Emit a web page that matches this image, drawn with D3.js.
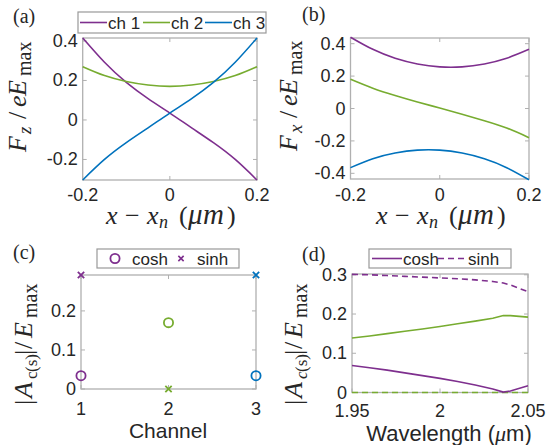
<!DOCTYPE html>
<html><head><meta charset="utf-8">
<script src="https://cdn.jsdelivr.net/npm/d3@7"></script>
<style>
body{margin:0;background:#fff;}
text{font-family:"Liberation Sans",Arial,sans-serif;fill:#262626;}
.serif{font-family:"Liberation Serif","Times New Roman",serif;}
</style></head>
<body><svg id="c" width="553" height="445"></svg>
<script>
// ---------- data ----------
const xOffsets = [-0.2,-0.15,-0.1,-0.05,0,0.05,0.1,0.15,0.2];
const fzCh1 = [0.415,0.292,0.190,0.108,0.035,-0.040,-0.115,-0.200,-0.304];
const fzCh2 = [0.270,0.225,0.195,0.177,0.170,0.177,0.195,0.225,0.270];
const fzCh3 = [-0.304,-0.200,-0.115,-0.040,0.035,0.108,0.190,0.292,0.415];
const fxCh1 = [0.440,0.365,0.310,0.275,0.257,0.257,0.275,0.310,0.365];
const fxCh2 = [0.180,0.125,0.080,0.040,0.003,-0.035,-0.075,-0.120,-0.180];
const fxCh3 = [-0.365,-0.310,-0.275,-0.257,-0.257,-0.275,-0.310,-0.365,-0.440];
const channels = [1,2,3];
const coshAmp = [0.034,0.170,0.034];
const sinhAmp = [0.292,0.000,0.292];
const wavelengths = [1.95,1.96,1.97,1.98,1.99,2.00,2.01,2.02,2.03,2.036,2.04,2.05];
const coshCh1W = [0.069,0.063,0.057,0.050,0.043,0.036,0.028,0.019,0.009,0.001,0.004,0.017];
const sinhCh1W = [0.301,0.300,0.298,0.296,0.294,0.292,0.290,0.287,0.283,0.279,0.274,0.257];
const coshCh2W = [0.139,0.144,0.150,0.156,0.162,0.168,0.175,0.182,0.189,0.196,0.196,0.192];
const sinhCh2W = [0,0,0,0,0,0,0,0,0,0,0,0];
const seriesNames = ["ch 1","ch 2","ch 3"];
const colors = ["#7E2F8E","#77AC30","#0072BD"];
const ticksAB_x = [-0.2,0,0.2];
const ticksA_y = [-0.2,0,0.2,0.4];
const ticksB_y = [-0.4,-0.2,0,0.2,0.4];
const ticksC_y = [0,0.1,0.2];
const ticksD_y = [0,0.1,0.2,0.3];
const ticksD_x = [1.95,2,2.05];

const svg = d3.select("#c");
const AX = "#b0b0b0";
const TF = 18;

function panel(o){
  const g = svg.append("g");
  const x = d3.scaleLinear().domain(o.xd).range([o.x0,o.x1]);
  const y = d3.scaleLinear().domain(o.yd).range([o.y1,o.y0]);
  const tl = 4;
  o.xt.forEach(t=>{
    g.append("line").attr("x1",x(t)).attr("x2",x(t)).attr("y1",o.y1).attr("y2",o.y1-tl).attr("stroke",AX);
    g.append("line").attr("x1",x(t)).attr("x2",x(t)).attr("y1",o.y0).attr("y2",o.y0+tl).attr("stroke",AX);
    g.append("text").attr("x",x(t)).attr("y",o.xtY).attr("text-anchor","middle").attr("font-size",TF).text(t);
  });
  o.yt.forEach(t=>{
    g.append("line").attr("x1",o.x0).attr("x2",o.x0+tl).attr("y1",y(t)).attr("y2",y(t)).attr("stroke",AX);
    g.append("line").attr("x1",o.x1).attr("x2",o.x1-tl).attr("y1",y(t)).attr("y2",y(t)).attr("stroke",AX);
    g.append("text").attr("x",o.x0-5).attr("y",y(t)+6).attr("text-anchor","end").attr("font-size",TF).text(t);
  });
  g.append("rect").attr("x",o.x0).attr("y",o.y0).attr("width",o.x1-o.x0).attr("height",o.y1-o.y0)
    .attr("fill","none").attr("stroke",AX).attr("stroke-width",1.3);
  return {g,x,y};
}

function drawLine(p, xs, ys, color, dash, curve){
  const line = d3.line().x((d,i)=>p.x(xs[i])).y(d=>p.y(d)).curve(curve||d3.curveLinear);
  p.g.append("path").datum(ys).attr("d",line).attr("fill","none").attr("stroke",color)
   .attr("stroke-width",1.6).attr("stroke-dasharray",dash||null);
}

// ---------- panel a ----------
const pa = panel({x0:82.7,x1:257,y0:38,y1:180,xd:[-0.2,0.2],yd:[-0.304,0.415],xt:ticksAB_x,yt:ticksA_y,xtY:201});
[fzCh1,fzCh2,fzCh3].forEach((s,i)=>drawLine(pa,xOffsets,s,colors[i],null,d3.curveNatural));

// ---------- panel b ----------
const pb = panel({x0:350.5,x1:529,y0:38,y1:179,xd:[-0.2,0.2],yd:[-0.435,0.435],xt:ticksAB_x,yt:ticksB_y,xtY:201});
[fxCh1,fxCh2,fxCh3].forEach((s,i)=>drawLine(pb,xOffsets,s,colors[i],null,d3.curveNatural));

// ---------- panel c ----------
const pc = panel({x0:81,x1:256,y0:275,y1:389,xd:[1,3],yd:[0,0.292],xt:channels,yt:ticksC_y,xtY:415});
channels.forEach((c,i)=>{
  pc.g.append("circle").attr("cx",pc.x(c)).attr("cy",pc.y(coshAmp[i])).attr("r",4.6)
    .attr("fill","none").attr("stroke",colors[i]).attr("stroke-width",1.8);
  const s = d3.symbol().type(d3.symbolX).size(28);
  pc.g.append("path").attr("d",s).attr("transform",`translate(${pc.x(c)},${pc.y(sinhAmp[i])})`)
    .attr("fill","none").attr("stroke",colors[i]).attr("stroke-width",1.8);
});

// ---------- panel d ----------
const pd = panel({x0:352,x1:528,y0:274,y1:392.5,xd:[1.95,2.05],yd:[0,0.302],xt:ticksD_x,yt:ticksD_y,xtY:417});
drawLine(pd,wavelengths,sinhCh2W,colors[1],"6,4");
drawLine(pd,wavelengths,coshCh2W,colors[1]);
drawLine(pd,wavelengths,coshCh1W,colors[0]);
drawLine(pd,wavelengths,sinhCh1W,colors[0],"6,4");

// ---------- labels ----------
function lab(x,y,t){svg.append("text").attr("class","serif").attr("x",x).attr("y",y).attr("font-size",20).text(t);}
lab(13,23,"(a)"); lab(302,21,"(b)"); lab(13,259,"(c)"); lab(302,261,"(d)");

// rotated label built from pieces: [text, startY(image), size, italic, dy]
function rotLabel(cx, pieces){
  const t = svg.append("text").attr("class","serif").attr("transform",`translate(${cx},0) rotate(-90)`);
  pieces.forEach(p=>{
    t.append("tspan").attr("x",-p[1]).attr("y",p[4]||0).attr("font-size",p[2])
     .attr("font-style",p[3]?"italic":"normal").text(p[0]);
  });
}
function yLabelF(cx,off,sub){
  rotLabel(cx,[["F",152+off,26,true],[sub,134+off,19,true,5],["/",119+off,26,false],
    ["e",107+off,26,true],["E",96+off,26,true],["max",76+off,20,false,5]]);
}
yLabelF(26,0,"z"); yLabelF(297,-1,"x");

function yLabelA(cx,italicC){
  rotLabel(cx,[["|",405,26,false],["A",398,26,true],["c",379,17,italicC,5],["(s)",372,17,false,5],
    ["|",355,26,false],["/",349,26,false],["E",338,26,true],["max",318,20,false,5]]);
}
yLabelA(32,false); yLabelA(302,true);

function xLabelX(off,y){
  const t = svg.append("text").attr("class","serif").attr("y",y);
  const parts = [["x",106,26,true,0],["−",125,26,false,0],["x",147,26,true,0],["n",159,18,true,4],
    ["(",179,26,false,0],["μ",188,29,true,0],["m",203,29,true,0],[")",227,26,false,0]];
  parts.forEach(p=>t.append("tspan").attr("x",p[1]+off).attr("y",y+p[4]).attr("font-size",p[2])
    .attr("font-style",p[3]?"italic":"normal").text(p[0]));
}
xLabelX(0,224); xLabelX(270,224);

svg.append("text").attr("x",168).attr("y",438).attr("text-anchor","middle").attr("font-size",21).text("Channel");
const wl = svg.append("text").attr("x",449).attr("y",441).attr("text-anchor","middle").attr("font-size",22);
wl.append("tspan").text("Wavelength (");
wl.append("tspan").attr("class","serif").attr("font-style","italic").text("μ");
wl.append("tspan").text("m)");

// ---------- legends ----------
function legBox(x0,y0,x1,y1){svg.append("rect").attr("x",x0).attr("y",y0).attr("width",x1-x0).attr("height",y1-y0).attr("fill","#fff").attr("stroke","#999").attr("stroke-width",1.2);}
legBox(78,12,266,33);
const legA = [[80,107],[143,170],[205,232]];
seriesNames.forEach((n,i)=>{
  svg.append("line").attr("x1",legA[i][0]).attr("x2",legA[i][1]).attr("y1",22.5).attr("y2",22.5).attr("stroke",colors[i]).attr("stroke-width",1.6);
  svg.append("text").attr("x",legA[i][1]+1).attr("y",29).attr("font-size",17).text(n);
});
legBox(97,249,239,268);
svg.append("circle").attr("cx",115).attr("cy",258.5).attr("r",4.6).attr("fill","none").attr("stroke",colors[0]).attr("stroke-width",1.8);
svg.append("text").attr("x",132).attr("y",265).attr("font-size",17).text("cosh");
svg.append("path").attr("d",d3.symbol().type(d3.symbolX).size(20)).attr("transform","translate(181,258.5)").attr("fill","none").attr("stroke",colors[0]).attr("stroke-width",1.6);
svg.append("text").attr("x",197).attr("y",265).attr("font-size",17).text("sinh");
legBox(369,249,511,268);
svg.append("line").attr("x1",372).attr("x2",402).attr("y1",258.5).attr("y2",258.5).attr("stroke",colors[0]).attr("stroke-width",1.6);
svg.append("text").attr("x",403).attr("y",265).attr("font-size",17).text("cosh");
svg.append("line").attr("x1",438).attr("x2",467).attr("y1",258.5).attr("y2",258.5).attr("stroke",colors[0]).attr("stroke-width",1.6).attr("stroke-dasharray","6,4");
svg.append("text").attr("x",468).attr("y",265).attr("font-size",17).text("sinh");
</script></body></html>
